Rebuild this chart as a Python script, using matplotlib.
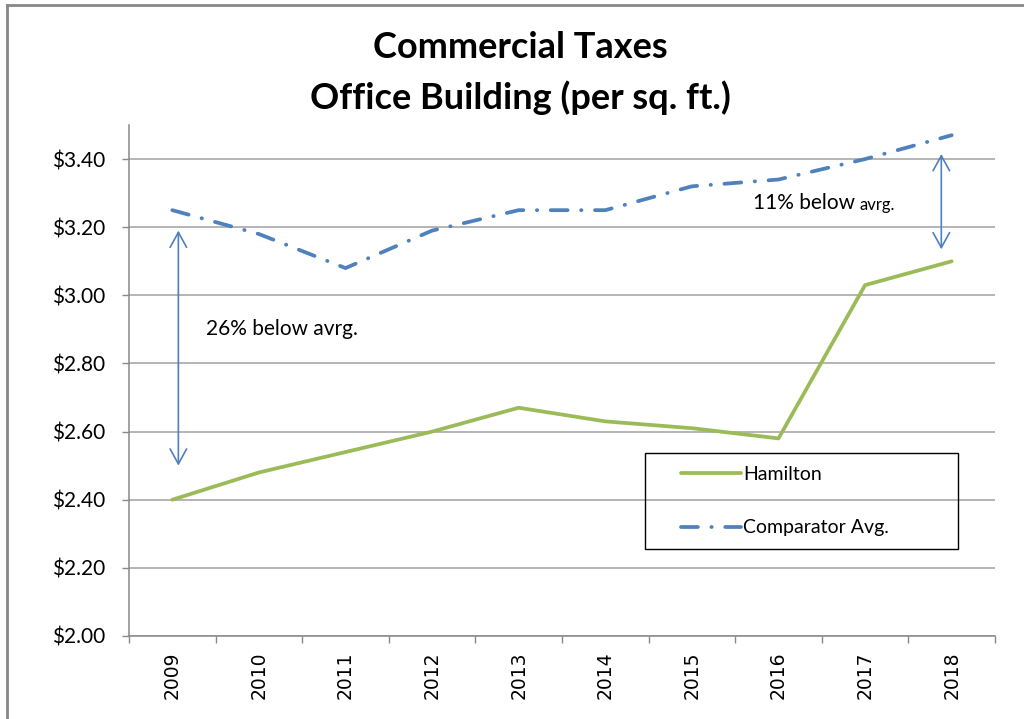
import matplotlib
matplotlib.use("Agg")
import matplotlib.pyplot as plt
import numpy as np
from matplotlib.lines import Line2D
from matplotlib.patches import Rectangle

years = ["2009", "2010", "2011", "2012", "2013", "2014", "2015", "2016", "2017", "2018"]
hamilton = [2.40, 2.48, 2.54, 2.60, 2.67, 2.63, 2.61, 2.58, 3.03, 3.10]
comparator = [3.25, 3.18, 3.08, 3.19, 3.25, 3.25, 3.32, 3.34, 3.40, 3.47]
y_ticks = [2.00, 2.20, 2.40, 2.60, 2.80, 3.00, 3.20, 3.40]

GREEN = "#9BBB59"
BLUE = "#4F81BD"
GRID = "#A0A0A0"
FONT = "Lato"

fig = plt.figure(figsize=(10.24, 7.19), dpi=100)
ax = fig.add_axes([129 / 1024, 1 - 636 / 719, 866 / 1024, 511 / 719])

x = np.arange(len(years))
ax.plot(x, hamilton, color=GREEN, lw=2.7, solid_joinstyle="round",
        solid_capstyle="round", label="Hamilton")
ax.plot(x, comparator, color=BLUE, lw=2.7, dashes=(4.5, 3.6, 0.1, 3.6),
        dash_capstyle="round", label="Comparator Avg.")

ax.set_xlim(-0.5, len(years) - 0.5)
ax.set_ylim(2.0, 3.5)
ax.set_yticks(y_ticks)
ax.set_yticklabels([f"${v:.2f}" for v in y_ticks], fontfamily=FONT, fontsize=15)
ax.yaxis.grid(True, color=GRID, lw=1.1)
ax.set_axisbelow(True)

ax.set_xticks(x)
ax.set_xticklabels(years, rotation=90, fontfamily="DejaVu Sans", fontsize=13.5)
ax.set_xticks(np.arange(-0.5, len(years), 1), minor=True)
ax.tick_params(axis="x", which="major", length=0, pad=11)
ax.tick_params(axis="x", which="minor", length=5, color="#888888", width=1)
ax.tick_params(axis="y", length=5, color="#888888", width=1, pad=12)

for side in ["top", "right"]:
    ax.spines[side].set_visible(False)
for side in ["left", "bottom"]:
    ax.spines[side].set_color("#888888")
    ax.spines[side].set_linewidth(1.1)

# gap arrows
arrow = dict(arrowstyle="<->,head_length=0.6,head_width=0.33", color=BLUE,
             lw=1.2, shrinkA=0, shrinkB=0, mutation_scale=18)
ax.annotate("", xy=(0.07, 3.19), xytext=(0.07, 2.50), arrowprops=arrow)
ax.annotate("", xy=(8.88, 3.415), xytext=(8.88, 3.135), arrowprops=arrow)

ax.text(0.39, 2.90, "26% below avrg.", fontfamily=FONT, fontsize=15,
        ha="left", va="center")
t1 = ax.text(6.7, 3.27, "11% below ", fontfamily=FONT, fontsize=15,
             ha="left", va="center")
ax.annotate("avrg.", xy=(1, 0.04), xycoords=t1, fontfamily=FONT, fontsize=12,
            ha="left", va="bottom")

fig.text(0.508, 1 - 48 / 719, "Commercial Taxes", fontfamily=FONT,
         fontweight="bold", fontsize=26, ha="center", va="center")
fig.text(0.508, 1 - 98 / 719, "Office Building (per sq. ft.)", fontfamily=FONT,
         fontweight="bold", fontsize=26, ha="center", va="center")

# legend box
fig.patches.append(Rectangle((645 / 1024, 1 - 549 / 719), 313 / 1024, 96 / 719,
                             transform=fig.transFigure, fill=False,
                             edgecolor="black", lw=1))
ax.legend(loc="center", bbox_to_anchor=(785 / 1024, 1 - 501 / 719),
          bbox_transform=fig.transFigure, frameon=False,
          prop={"family": FONT, "size": 14}, handlelength=3.1,
          handletextpad=0.1, labelspacing=1.9)

# chart border (top and left edges visible)
fig.add_artist(Line2D([7 / 1024, 1], [1 - 5 / 719, 1 - 5 / 719], color="#888888",
                      lw=2, transform=fig.transFigure))
fig.add_artist(Line2D([7 / 1024, 7 / 1024], [0, 1 - 5 / 719], color="#888888",
                      lw=2, transform=fig.transFigure))

fig.savefig("out.png", dpi=100)
